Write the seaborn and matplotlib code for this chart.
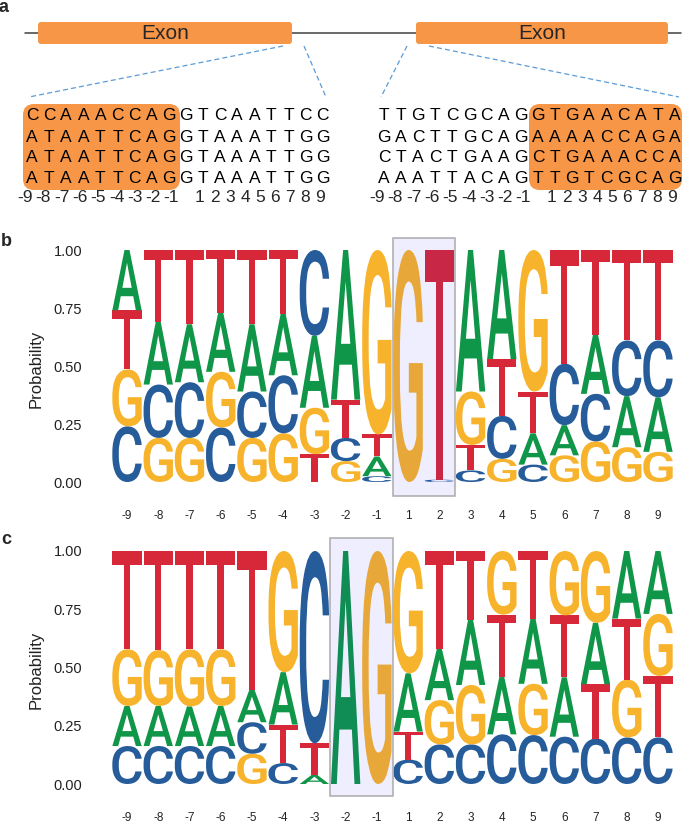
import numpy as np
import pandas as pd
import matplotlib
matplotlib.use('Agg')
import matplotlib.pyplot as plt
import matplotlib.transforms as mtransforms
from matplotlib.textpath import TextPath
from matplotlib.patches import PathPatch, Rectangle, FancyBboxPatch
from matplotlib.font_manager import FontProperties
import seaborn as sns

# positions around the splice site
positions = ['-9', '-8', '-7', '-6', '-5', '-4', '-3', '-2', '-1',
             '1', '2', '3', '4', '5', '6', '7', '8', '9']

# panel b (donor site) letter probabilities
donor_A = [.26, .27, .25, .255, .29, .265, .31, .645, .085, 0, 0, .61, .47, .135, .13, .255, .22, .235]
donor_C = [.24, .23, .24, .235, .20, .25, .37, .10, .025, 0, .01, .05, .185, .075, .265, .205, .24, .245]
donor_G = [.245, .19, .19, .24, .19, .21, .20, .09, .795, 1.0, 0, .23, .10, .61, .115, .175, .15, .13]
donor_T = [.255, .31, .32, .27, .32, .275, .12, .165, .095, 0, .99, .11, .245, .18, .49, .365, .39, .39]

# panel c (acceptor site) letter probabilities
acc_A = [.172, .172, .17, .172, .14, .225, .04, 1.0, 0, .25, .22, .28, .246, .28, .255, .264, .29, .27]
acc_C = [.163, .163, .163, .163, .135, .09, .825, 0, 0, .105, .17, .17, .213, .21, .203, .195, .20, .20]
acc_G = [.243, .24, .245, .243, .13, .52, 0, 0, 1.0, .525, .19, .255, .273, .22, .276, .308, .248, .266]
acc_T = [.422, .425, .422, .422, .595, .165, .135, 0, 0, .12, .42, .295, .268, .29, .266, .233, .262, .264]

# panel a example sequences
donor_seqs = ['CCAAACCAGGTCAATTCC',
              'ATAATTCAGGTAAATTGG',
              'ATAATTCAGGTAAATTGG',
              'ATAATTCAGGTAAATTGG']
acceptor_seqs = ['TTGTCGCAGGTGAACATA',
                 'GACTTGCAGAAAACCAGA',
                 'CTACTGAAGCTGAAACCA',
                 'AAATTACAGTTGTCGCAG']
neg_labels = ['-9', '-8', '-7', '-6', '-5', '-4', '-3', '-2', '-1']
pos_labels = ['1', '2', '3', '4', '5', '6', '7', '8', '9']

nt_colors = {'A': '#109648', 'C': '#255C99', 'G': '#F7B32B', 'T': '#D62839'}

sns.set_theme(style='white')
plt.rcParams['font.family'] = ['Liberation Sans', 'DejaVu Sans']

W, H = 685, 823
fig = plt.figure(figsize=(W / 100, H / 100), dpi=100)

glyph_font = FontProperties(family='Roboto', weight='medium')


def draw_letter(ax, ch, x, y0, h, width=0.94):
    path = TextPath((0, 0), ch, size=1, prop=glyph_font)
    bb = path.get_extents()
    tr = (mtransforms.Affine2D()
          .translate(-bb.x0, -bb.y0)
          .scale(width / bb.width, h / bb.height)
          .translate(x - width / 2, y0))
    ax.add_patch(PathPatch(tr.transform_path(path), facecolor=nt_colors[ch],
                           edgecolor='none', zorder=2))


def draw_logo(ax, A, C, G, T, box):
    df = pd.DataFrame({'A': A, 'C': C, 'G': G, 'T': T}, index=positions)
    long = df.reset_index(names='pos').melt(id_vars='pos', var_name='nt', value_name='p')
    long['i'] = long['pos'].map({p: i for i, p in enumerate(positions)})
    for i, grp in long.groupby('i'):
        base = 0.0
        for _, row in grp.sort_values('p', kind='stable').iterrows():
            if row['p'] > 0:
                draw_letter(ax, row['nt'], i, base, row['p'])
            base += row['p']
    ax.add_patch(Rectangle((box[0], box[2]), box[1] - box[0], box[3] - box[2],
                           facecolor=(0.1, 0.1, 1.0, 0.07), edgecolor='#ABABAB',
                           lw=1.1, zorder=3))
    ax.set_xlim(-0.5, len(positions) - 0.5)
    ax.set_ylim(-0.08, 1.08)
    ax.set_xticks(range(len(positions)))
    ax.set_xticklabels(positions)
    ax.set_yticks([0, 0.25, 0.5, 0.75, 1.0])
    ax.set_yticklabels(['0.00', '0.25', '0.50', '0.75', '1.00'])
    ax.tick_params(axis='x', length=0, pad=6.5, labelsize=8.5, labelcolor='#222222')
    ax.tick_params(axis='y', length=0, pad=21, labelsize=10.5, labelcolor='#222222')
    ax.set_ylabel('Probability', fontsize=12, color='#222222')
    ax.yaxis.set_label_coords(-0.12, 0.49)
    sns.despine(ax=ax, left=True, bottom=True)
    ax.grid(False)
    ax.set_facecolor('none')


x_left, x_w = 111.4 / W, 562.2 / W
ax_b = fig.add_axes([x_left, (H - 500.56) / H, x_w, 269.12 / H])
draw_logo(ax_b, donor_A, donor_C, donor_G, donor_T, (8.5, 10.5, -0.06, 1.052))
ax_c = fig.add_axes([x_left, (H - 802.64) / H, x_w, 270.28 / H])
draw_logo(ax_c, acc_A, acc_C, acc_G, acc_T, (6.5, 8.5, -0.05, 1.054))

fig.text(6 / W, 1 - 241 / H, 'b', fontsize=13, fontweight='bold', ha='center', va='center')
fig.text(6 / W, 1 - 539 / H, 'c', fontsize=13, fontweight='bold', ha='center', va='center')

# panel a: schematic drawn in pixel coordinates
top_h = 215
ax_a = fig.add_axes([0, 1 - top_h / H, 1, top_h / H])
ax_a.set_xlim(0, W)
ax_a.set_ylim(top_h, 0)
ax_a.axis('off')

ax_a.text(4, 7, 'a', fontsize=13, fontweight='bold', ha='center', va='center')
ax_a.plot([25, 681], [33, 33], color='#404040', lw=1.1, zorder=1)
orange = '#F79646'
for x0, x1 in [(38, 292), (416, 668)]:
    ax_a.add_patch(FancyBboxPatch((x0, 22), x1 - x0, 22, boxstyle='round,pad=0,rounding_size=3',
                                  facecolor=orange, edgecolor='none', zorder=2))
    ax_a.text((x0 + x1) / 2, 33.5, 'Exon', fontsize=15, ha='center', va='center', zorder=3)

dash_kw = dict(color='#5B9BD5', lw=0.9, ls=(0, (4, 2.5)))
ax_a.plot([283, 29], [46, 97], **dash_kw)
ax_a.plot([304, 326], [46, 97], **dash_kw)
ax_a.plot([407, 381], [46, 97], **dash_kw)
ax_a.plot([429, 679], [46, 97], **dash_kw)

pitch = 17.1
row_y = [116, 137, 157.5, 178.5]
for seqs, x_start, box_x in [(donor_seqs, 32, (23, 180)), (acceptor_seqs, 384, (529, 682))]:
    ax_a.add_patch(FancyBboxPatch((box_x[0], 104), box_x[1] - box_x[0], 86,
                                  boxstyle='round,pad=0,rounding_size=11',
                                  facecolor=orange, edgecolor='none', zorder=1))
    for r, seq in enumerate(seqs):
        for k, ch in enumerate(seq):
            ax_a.text(x_start + k * pitch, row_y[r], ch, fontsize=12.5,
                      ha='center', va='center', color='black', zorder=2)
    for k, lab in enumerate(neg_labels):
        ax_a.text(x_start - 7 + k * 18.3, 198, lab, fontsize=12.5, ha='center', va='center')
    for k, lab in enumerate(pos_labels):
        ax_a.text(x_start + 168 + k * 15.05, 198, lab, fontsize=12.5, ha='center', va='center')

fig.savefig('out.png', dpi=100)
